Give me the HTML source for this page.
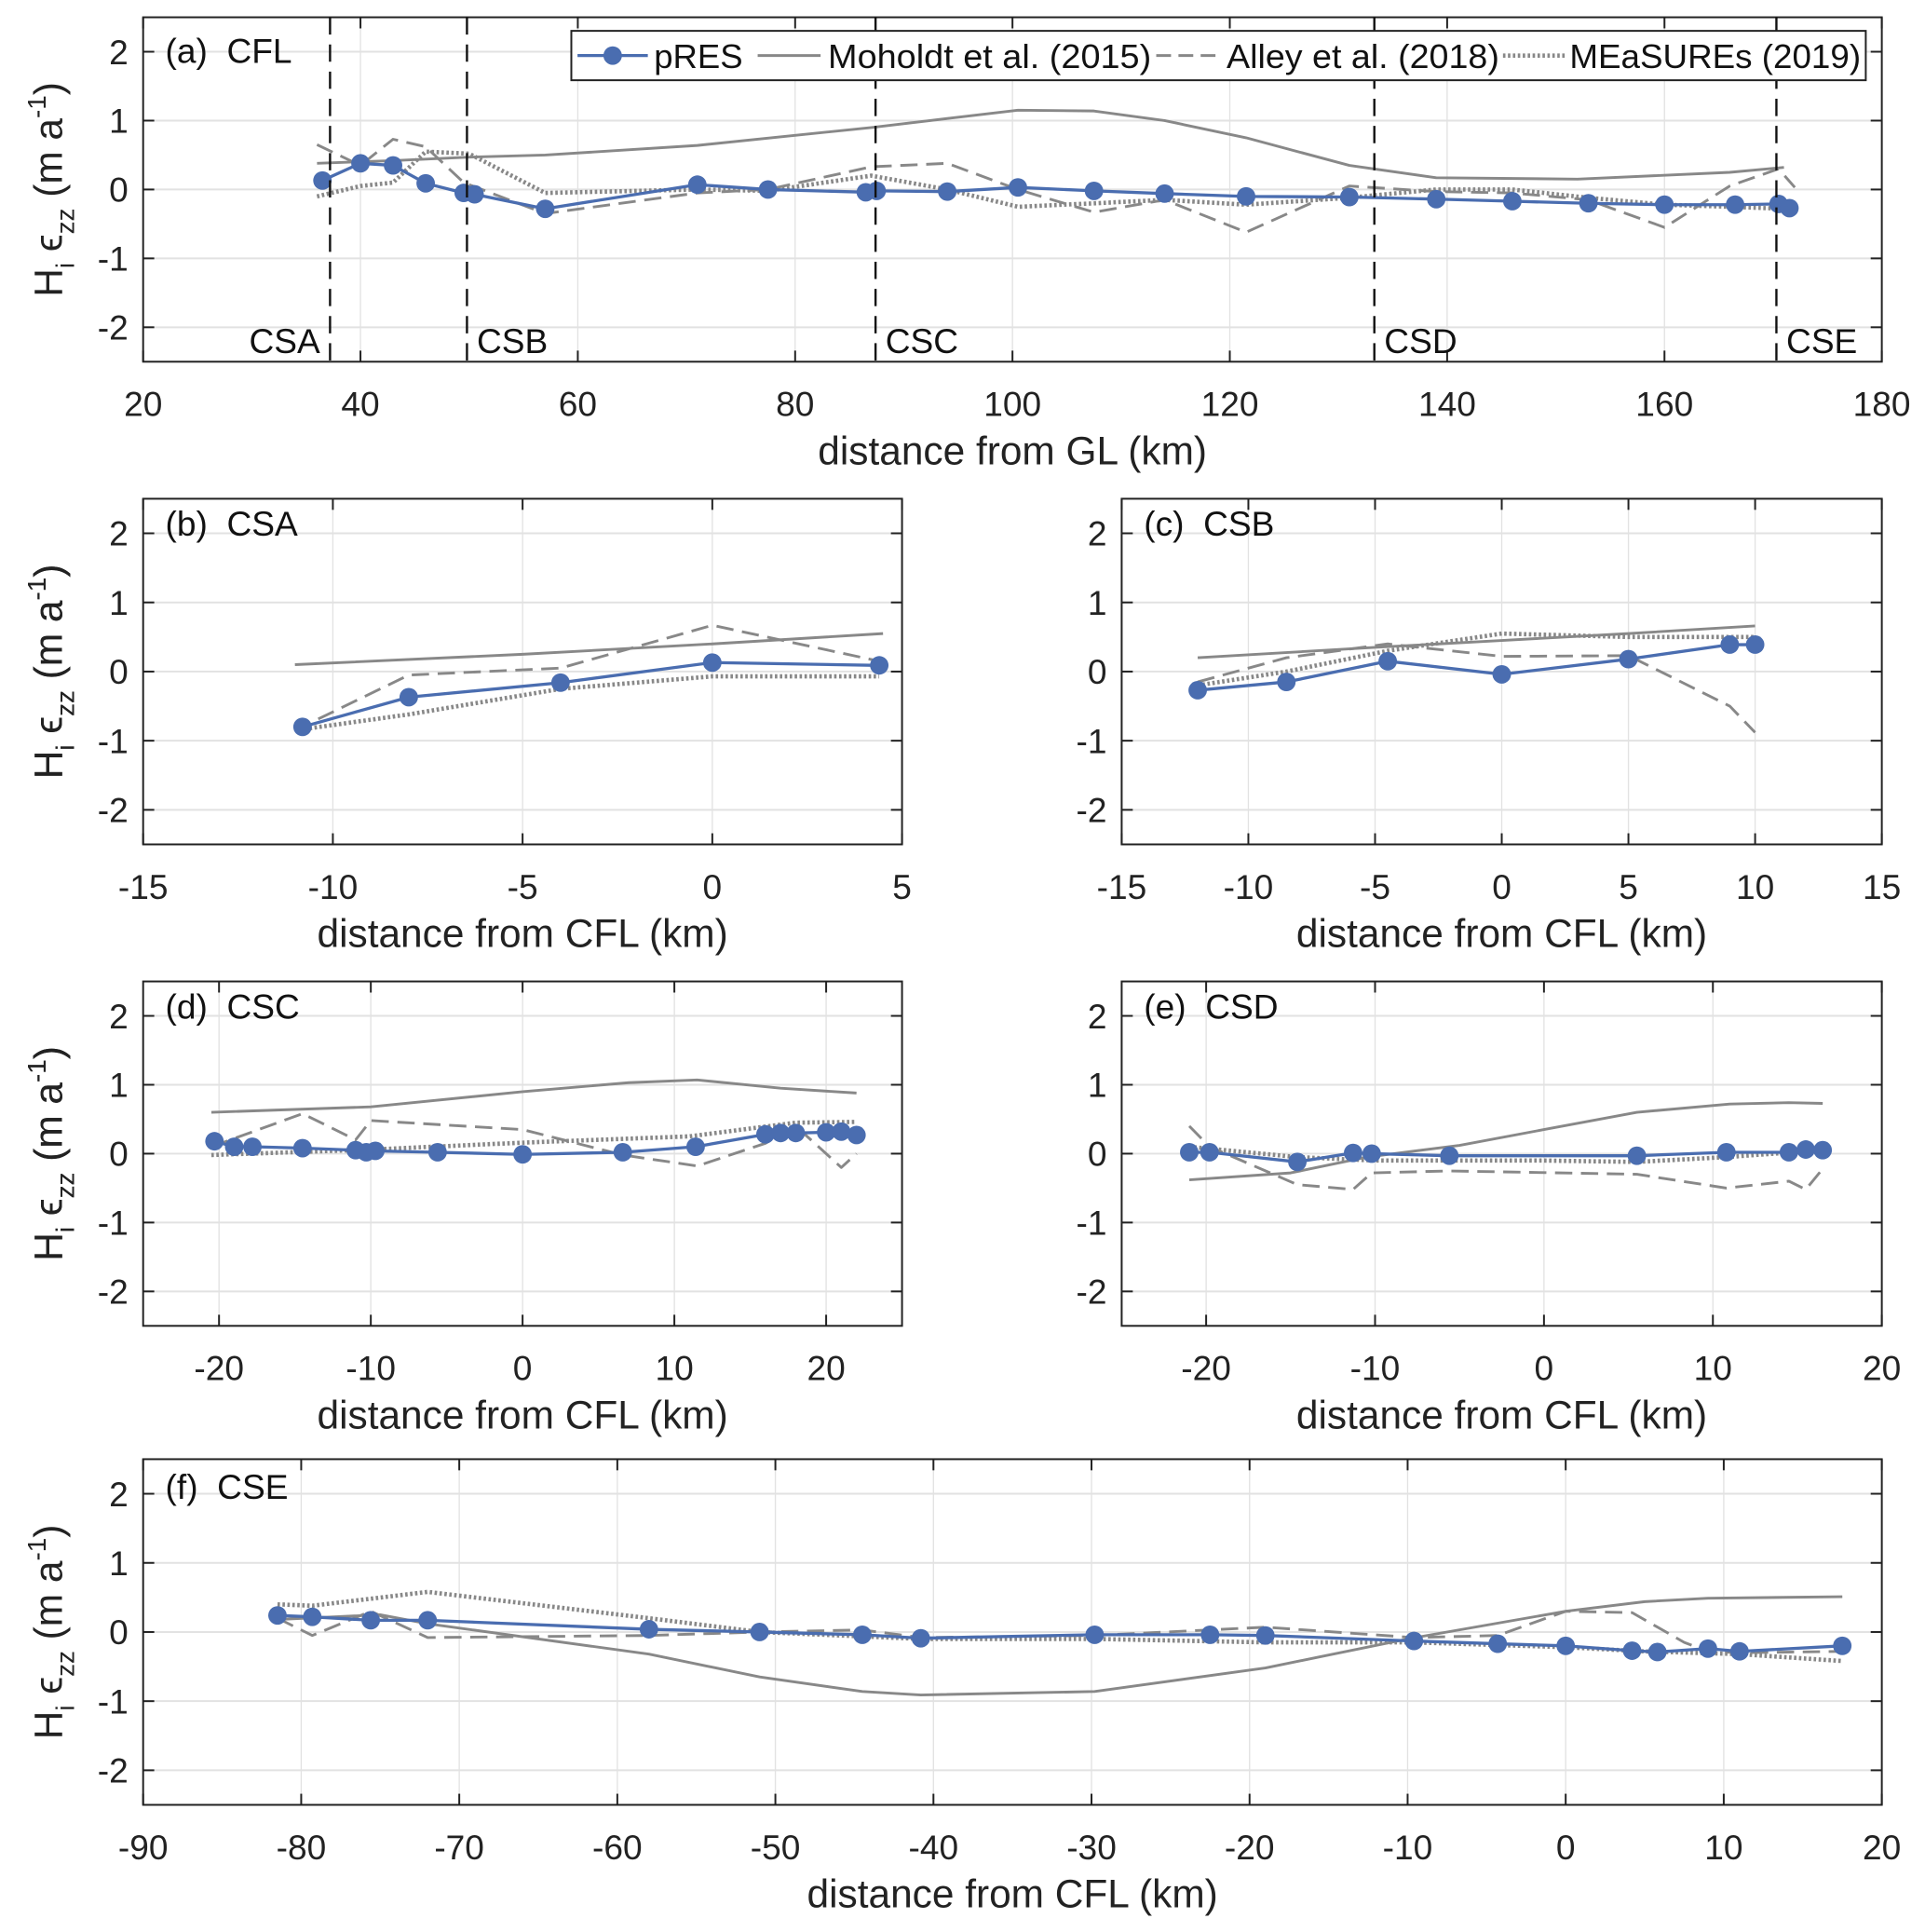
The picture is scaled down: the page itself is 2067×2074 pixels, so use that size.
<!DOCTYPE html>
<html><head><meta charset="utf-8"><style>
html,body{margin:0;padding:0;background:#fff}
svg{display:block;font-family:"Liberation Sans",sans-serif}
</style></head><body>
<svg id="fig" width="2067" height="2074" viewBox="0 0 1560 1565" preserveAspectRatio="none" xmlns="http://www.w3.org/2000/svg"></svg>
<script>
// ---------- data ----------
const aPresX=[36.5,40,43,46,49.5,50.5,57,71,77.5,86.5,87.5,94,100.5,107.5,114,121.5,131,139,146,153,160,166.5,170.5,171.5];
const aPresY=[0.13,0.38,0.35,0.09,-0.05,-0.07,-0.28,0.07,0.0,-0.04,-0.02,-0.03,0.03,-0.02,-0.06,-0.1,-0.11,-0.14,-0.17,-0.2,-0.22,-0.22,-0.21,-0.27];
const aMohX=[36,43,50,57,71,87,94,100.5,107.5,114,121.5,131,139,152,166,171];
const aMohY=[0.38,0.42,0.47,0.5,0.64,0.9,1.03,1.15,1.14,1.0,0.75,0.35,0.17,0.15,0.25,0.32];
const aAllX=[36,40,43,46,49.5,57,71,77.5,87,94,100.5,107.5,114,121.5,131,139,146,153,160,166,170.5,172];
const aAllY=[0.65,0.35,0.73,0.62,0.1,-0.35,-0.05,0.0,0.33,0.38,0.0,-0.33,-0.15,-0.62,0.05,-0.03,-0.05,-0.15,-0.55,0.05,0.3,0.03];
const aMeaX=[36,40,43,46,50,57,71,77.5,87,94,100.5,107.5,114,121.5,131,139,146,153,160,166,171];
const aMeaY=[-0.1,0.05,0.1,0.55,0.52,-0.05,0.0,-0.02,0.2,0.0,-0.25,-0.2,-0.15,-0.22,-0.12,0.0,0.0,-0.12,-0.22,-0.25,-0.28];
const aSectX=[37.2,49.8,87.4,133.3,170.3];
const aSectNames=["CSA","CSB","CSC","CSD","CSE"];

const bPresX=[-10.8,-8,-4,0,4.4], bPresY=[-0.8,-0.37,-0.16,0.13,0.09];
const bMohX=[-11,-5,0,4.5], bMohY=[0.1,0.25,0.4,0.55];
const bAllX=[-11,-8,-4,0,4.4], bAllY=[-0.85,-0.05,0.05,0.67,0.15];
const bMeaX=[-11,-8,-4,0,4.4], bMeaY=[-0.85,-0.62,-0.25,-0.07,-0.07];

const cPresX=[-12,-8.5,-4.5,0,5,9,10], cPresY=[-0.27,-0.15,0.15,-0.04,0.18,0.39,0.39];
const cMohX=[-12,-5,0,5,10], cMohY=[0.2,0.35,0.45,0.55,0.66];
const cAllX=[-12,-8.5,-4.5,0,5,9,10], cAllY=[-0.15,0.2,0.4,0.22,0.23,-0.5,-0.88];
const cMeaX=[-12,-8.5,-4.5,0,5,10], cMeaY=[-0.2,0.0,0.3,0.55,0.5,0.5];

const dPresX=[-20.3,-19,-17.8,-14.5,-11,-10.3,-9.7,-5.6,0,6.6,11.4,16,17,18,20,21,22];
const dPresY=[0.18,0.1,0.1,0.08,0.05,0.02,0.04,0.02,-0.01,0.02,0.1,0.28,0.3,0.3,0.31,0.32,0.27];
const dMohX=[-20.5,-10,0,7,11.5,17,22], dMohY=[0.6,0.68,0.9,1.03,1.07,0.95,0.88];
const dAllX=[-20.5,-14.5,-11,-10,0,6.6,11.5,16,18,21,22], dAllY=[0.1,0.58,0.2,0.48,0.35,-0.02,-0.18,0.15,0.4,-0.2,0.0];
const dMeaX=[-20.5,-10,0,11,18,22], dMeaY=[-0.02,0.06,0.16,0.25,0.45,0.46];

const ePresX=[-21,-19.8,-14.6,-11.3,-10.2,-5.6,5.5,10.8,14.5,15.5,16.5];
const ePresY=[0.02,0.02,-0.12,0.01,0.0,-0.03,-0.03,0.02,0.02,0.06,0.05];
const eMohX=[-21,-15,-10.5,-5,0,5.5,11,14.5,16.5], eMohY=[-0.38,-0.28,-0.05,0.12,0.35,0.6,0.72,0.74,0.73];
const eAllX=[-21,-19.8,-14.6,-11.3,-10.2,-5.6,5.5,10.8,14.5,15.5,16.5], eAllY=[0.4,0.1,-0.45,-0.52,-0.28,-0.25,-0.3,-0.5,-0.4,-0.52,-0.22];
const eMeaX=[-21,-14.6,-10,0,5.5,10.8,16.5], eMeaY=[0.1,-0.05,-0.1,-0.1,-0.12,-0.05,0.05];

const fPresX=[-81.5,-79.3,-75.6,-72,-58,-51,-44.5,-40.8,-29.8,-22.5,-19,-9.6,-4.3,0,4.2,5.8,9,11,17.5];
const fPresY=[0.24,0.22,0.17,0.17,0.04,0.0,-0.04,-0.09,-0.04,-0.04,-0.05,-0.13,-0.17,-0.2,-0.27,-0.29,-0.24,-0.28,-0.2];
const fMohX=[-81.5,-75,-72,-58,-51,-44.5,-40.8,-29.8,-19,-10,0,5,9,17.5];
const fMohY=[0.18,0.25,0.12,-0.32,-0.65,-0.86,-0.91,-0.86,-0.52,-0.1,0.3,0.44,0.49,0.51];
const fAllX=[-81.5,-79.3,-75.6,-72,-58,-51,-44.5,-40.8,-29.8,-19,-9.6,-4.3,0,4.2,7.5,9,11,17.5];
const fAllY=[0.2,-0.05,0.3,-0.08,-0.05,0.0,0.03,-0.08,-0.05,0.07,-0.08,-0.05,0.3,0.28,-0.15,-0.28,-0.3,-0.28];
const fMeaX=[-81.5,-79.3,-72,-58,-51,-40.8,-29.8,-19,-9.6,0,5,11,17.5];
const fMeaY=[0.4,0.38,0.58,0.2,0.0,-0.1,-0.1,-0.15,-0.15,-0.22,-0.28,-0.32,-0.42];

const yTicks=[-2,-1,0,1,2];
const aXTicks=[20,40,60,80,100,120,140,160,180];
const bXTicks=[-15,-10,-5,0,5];
const cXTicks=[-15,-10,-5,0,5,10,15];
const dXTicks=[-20,-10,0,10,20];
const eXTicks=[-20,-10,0,10,20];
const fXTicks=[-90,-80,-70,-60,-50,-40,-30,-20,-10,0,10,20];

// ---------- drawing ----------
const NS="http://www.w3.org/2000/svg";
const svg=document.getElementById('fig');
function mk(tag,attrs,parent){const e=document.createElementNS(NS,tag);for(const k in attrs)e.setAttribute(k,attrs[k]);(parent||svg).appendChild(e);return e;}
const BLUE="#4a6db0", GRAY="#888888";

function panel(id,box,xmin,xmax,xticks,title,xlabel,series,titleOff){
  const g=mk('g',{});
  
  
  const {l,r,t,b}=box;
  const sx=v=>l+(v-xmin)/(xmax-xmin)*(r-l);
  const sy=v=>t+(2.5-v)/5*(b-t);
  xticks.forEach(v=>{const ln=mk('line',{x1:sx(v),x2:sx(v),y1:t,y2:b,stroke:'#e2e2e2','stroke-width':1},g);
    });
  yTicks.forEach(v=>{const ln=mk('line',{x1:l,x2:r,y1:sy(v),y2:sy(v),stroke:'#e2e2e2','stroke-width':1.5},g);
    });
  const line=(xs,ys,style,name)=>{
    const pts=xs.map((x,i)=>sx(x).toFixed(1)+','+sy(ys[i]).toFixed(1)).join(' ');
    const p=mk('polyline',Object.assign({points:pts,fill:'none','stroke-linejoin':'round'},style),g);
    
  };
  line(series.mohX,series.mohY,{stroke:GRAY,'stroke-width':2.2},'moholdt-line');
  line(series.allX,series.allY,{stroke:GRAY,'stroke-width':2.2,'stroke-dasharray':'14,7'},'alley-line');
  line(series.meaX,series.meaY,{stroke:GRAY,'stroke-width':3.5,'stroke-dasharray':'2,2'},'measures-line');
  line(series.presX,series.presY,{stroke:BLUE,'stroke-width':2.5},'pres-line');
  series.presX.forEach((x,i)=>{const c=mk('circle',{cx:sx(x),cy:sy(series.presY[i]),r:7.5,fill:BLUE},g);
    });
  const bx=mk('rect',{x:l,y:t,width:r-l,height:b-t,fill:'none',stroke:'#222','stroke-width':1.5},g);
  
  xticks.forEach(v=>{
    mk('line',{x1:sx(v),x2:sx(v),y1:b,y2:b-9,stroke:'#222','stroke-width':1.5},g);
    mk('line',{x1:sx(v),x2:sx(v),y1:t,y2:t+9,stroke:'#222','stroke-width':1.5},g);
    const tx=mk('text',{x:sx(v),y:b+44,'font-size':28,'text-anchor':'middle',fill:'#222'},g);
    tx.textContent=v;
  });
  yTicks.forEach(v=>{
    mk('line',{x1:l,x2:l+9,y1:sy(v),y2:sy(v),stroke:'#222','stroke-width':1.5},g);
    mk('line',{x1:r,x2:r-9,y1:sy(v),y2:sy(v),stroke:'#222','stroke-width':1.5},g);
    const tx=mk('text',{x:l-12,y:sy(v)+10,'font-size':28,'text-anchor':'end',fill:'#222'},g);
    tx.textContent=v;
  });
  const ti=mk('text',{x:l+18,y:t+titleOff,'font-size':28,fill:'#111'},g);
  ti.textContent=title;ti.style.whiteSpace='pre';
  
  const xl=mk('text',{x:(l+r)/2,y:b+83,'font-size':32,'text-anchor':'middle',fill:'#222'},g);
  xl.textContent=xlabel;
  const yl=mk('text',{x:0,y:0,'font-size':32,'text-anchor':'middle',fill:'#222',transform:`translate(50,${(t+b)/2}) rotate(-90)`},g);
  yl.innerHTML='H<tspan font-size="21" dy="10">i</tspan><tspan dy="-10"> ϵ</tspan><tspan font-size="21" dy="10">zz</tspan><tspan dy="-10"> (m a</tspan><tspan font-size="21" dy="-13">-1</tspan><tspan dy="13">)</tspan>';
  
  return {g,sx,sy};
}

const A=panel('a',{l:116,r:1525,t:14,b:293},20,180,aXTicks,'(a)  CFL','distance from GL (km)',
 {presX:aPresX,presY:aPresY,mohX:aMohX,mohY:aMohY,allX:aAllX,allY:aAllY,meaX:aMeaX,meaY:aMeaY},37);
aSectX.forEach((x,i)=>{
  const ln=mk('line',{x1:A.sx(x),x2:A.sx(x),y1:14,y2:293,stroke:'#111','stroke-width':1.8,'stroke-dasharray':'14,8'},A.g);
  
  const left=i===0;
  const tx=mk('text',{x:A.sx(x)+(left?-8:8),y:286,'font-size':28,'text-anchor':left?'end':'start',fill:'#111'},A.g);
  tx.textContent=aSectNames[i];
});
(function(){
  const g=mk('g',{});
  mk('rect',{x:463,y:25,width:1049,height:40,fill:'#fff',stroke:'#222','stroke-width':1.5},g);
  const ent=[
    {x1:468,x2:525,tx:530,tl:72,txt:'pRES',st:{stroke:BLUE,'stroke-width':2.5},m:true},
    {x1:614,x2:665,tx:671,tl:262,txt:'Moholdt et al. (2015)',st:{stroke:GRAY,'stroke-width':2.2}},
    {x1:937,x2:990,tx:994,tl:221,txt:'Alley et al. (2018)',st:{stroke:GRAY,'stroke-width':2.2,'stroke-dasharray':'12,6'}},
    {x1:1218,x2:1268,tx:1272,tl:236,txt:'MEaSUREs (2019)',st:{stroke:GRAY,'stroke-width':3.5,'stroke-dasharray':'2,2'}}];
  ent.forEach(e=>{
    const eg=mk('g',{},g);
    mk('line',Object.assign({x1:e.x1,x2:e.x2,y1:45,y2:45},e.st),eg);
    if(e.m)mk('circle',{cx:(e.x1+e.x2)/2,cy:45,r:7.5,fill:BLUE},eg);
    const t=mk('text',{x:e.tx,y:55,'font-size':27,fill:'#111',textLength:e.tl,lengthAdjust:'spacingAndGlyphs'},eg);t.textContent=e.txt;
  });
})();
panel('b',{l:116,r:731,t:404,b:684},-15,5,bXTicks,'(b)  CSA','distance from CFL (km)',
 {presX:bPresX,presY:bPresY,mohX:bMohX,mohY:bMohY,allX:bAllX,allY:bAllY,meaX:bMeaX,meaY:bMeaY},30);
panel('c',{l:909,r:1525,t:404,b:684},-15,15,cXTicks,'(c)  CSB','distance from CFL (km)',
 {presX:cPresX,presY:cPresY,mohX:cMohX,mohY:cMohY,allX:cAllX,allY:cAllY,meaX:cMeaX,meaY:cMeaY},30);
panel('d',{l:116,r:731,t:795,b:1074},-25,25,dXTicks,'(d)  CSC','distance from CFL (km)',
 {presX:dPresX,presY:dPresY,mohX:dMohX,mohY:dMohY,allX:dAllX,allY:dAllY,meaX:dMeaX,meaY:dMeaY},30);
panel('e',{l:909,r:1525,t:795,b:1074},-25,20,eXTicks,'(e)  CSD','distance from CFL (km)',
 {presX:ePresX,presY:ePresY,mohX:eMohX,mohY:eMohY,allX:eAllX,allY:eAllY,meaX:eMeaX,meaY:eMeaY},30);
panel('f',{l:116,r:1525,t:1182,b:1462},-90,20,fXTicks,'(f)  CSE','distance from CFL (km)',
 {presX:fPresX,presY:fPresY,mohX:fMohX,mohY:fMohY,allX:fAllX,allY:fAllY,meaX:fMeaX,meaY:fMeaY},32);
</script>
</body></html>
